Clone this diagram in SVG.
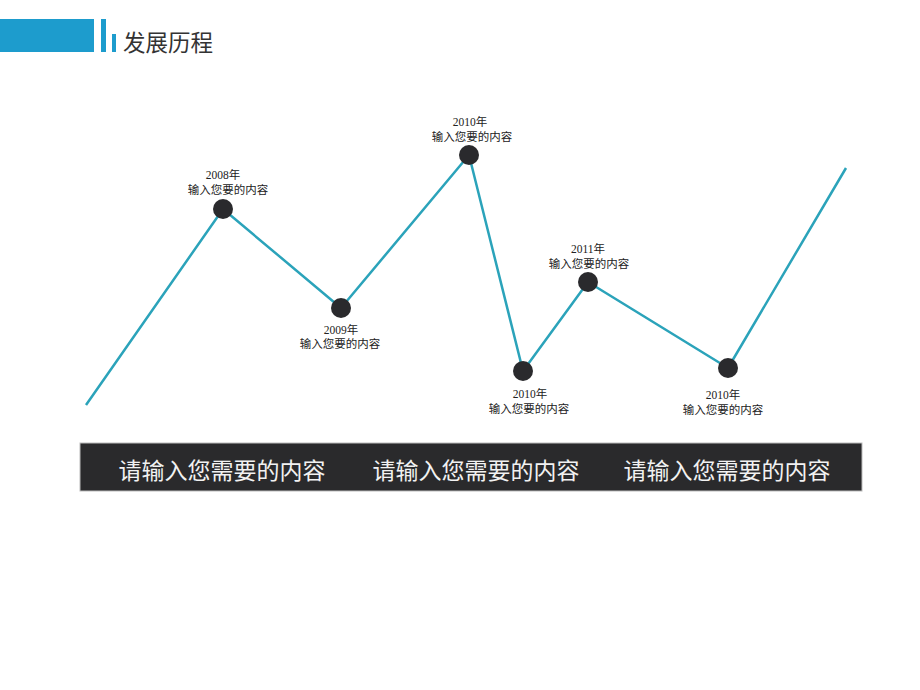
<svg xmlns="http://www.w3.org/2000/svg" width="920" height="690" viewBox="0 0 920 690">
<style>
.lbl{font-family:"Liberation Serif","Noto Sans CJK SC",serif;font-size:11.5px;fill:#222;text-anchor:middle}
.band{font-family:"Noto Sans CJK SC",sans-serif;font-size:23px;fill:#f2f2f2;text-anchor:middle}
.dot{fill:#2a2a2d}
</style>
<rect width="920" height="690" fill="#fff"/>
<g id="header">
<rect x="0" y="19" width="94" height="33" fill="#1d9ccd"/>
<rect x="101" y="19" width="5" height="33" fill="#1d9ccd"/>
<rect x="112" y="34" width="4" height="18" fill="#1d9ccd"/>
<text x="123" y="51" font-family="Noto Sans CJK SC,sans-serif" font-size="22.5" fill="#333">发展历程</text>
</g>
<g id="connectors">
<polyline points="86,405 223,209 341,308 469,155 523,371 588,282 728,368 846,168" fill="none" stroke="#2ba3ba" stroke-width="2.5" stroke-linejoin="round"/>
</g>
<g id="n2008"><circle class="dot" cx="223" cy="209" r="10"/><text class="lbl" x="223" y="179">2008年</text><text class="lbl" x="228" y="194">输入您要的内容</text></g>
<g id="n2009"><circle class="dot" cx="341" cy="308" r="10"/><text class="lbl" x="341" y="334">2009年</text><text class="lbl" x="340" y="348">输入您要的内容</text></g>
<g id="n2010a"><circle class="dot" cx="469" cy="155" r="10"/><text class="lbl" x="470" y="126">2010年</text><text class="lbl" x="472" y="141">输入您要的内容</text></g>
<g id="n2010b"><circle class="dot" cx="523" cy="371" r="10"/><text class="lbl" x="530" y="398">2010年</text><text class="lbl" x="529" y="413">输入您要的内容</text></g>
<g id="n2011"><circle class="dot" cx="588" cy="282" r="10"/><text class="lbl" x="588" y="253">2011年</text><text class="lbl" x="589" y="268">输入您要的内容</text></g>
<g id="n2010c"><circle class="dot" cx="728" cy="368" r="10"/><text class="lbl" x="723" y="399">2010年</text><text class="lbl" x="723" y="414">输入您要的内容</text></g>
<g id="band">
<rect x="80" y="443" width="782" height="48" fill="#2a2a2c" stroke="#bbb" stroke-width="1"/>
<text class="band" x="222" y="479">请输入您需要的内容</text>
<text class="band" x="476" y="479">请输入您需要的内容</text>
<text class="band" x="727" y="479">请输入您需要的内容</text>
</g>
</svg>
